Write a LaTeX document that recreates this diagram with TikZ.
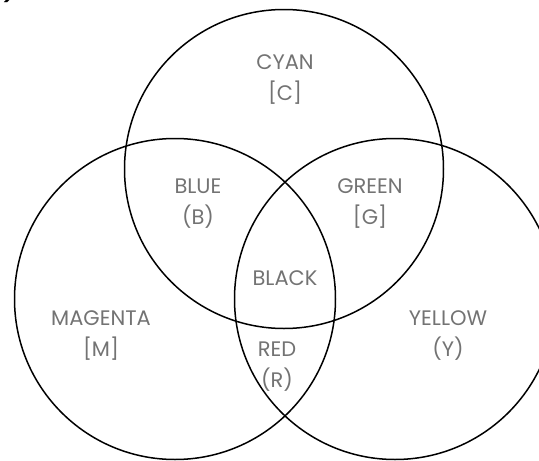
\documentclass[tikz,border=0pt]{standalone}
\usepackage{fontspec}
\setmainfont{Poppins}
\begin{document}
\begin{tikzpicture}[x=1pt,y=-1pt,
  circ/.style={draw=black,line width=1.5pt},
  lbl/.style={text=black!55,font=\fontsize{21}{31}\selectfont,align=center,inner sep=0pt}]
\useasboundingbox (0,0) rectangle (539,461);
\node[font=\bfseries\itshape\fontsize{20}{20}\selectfont,anchor=base east,inner sep=0pt] (tag) at (15,-2) {b)};
\draw[circ] (284,169) circle[radius=159.5];
\draw[circ] (175,299) circle[radius=160.5];
\draw[circ] (395,299) circle[radius=160.5];
\node[lbl] (c) at (285,80) {CYAN\\{[C]}};
\node[lbl] (b) at (198,204) {BLUE\\(B)};
\node[lbl] (g) at (370,204) {GREEN\\{[G]}};
\node[lbl] (k) at (285,278) {BLACK};
\node[lbl] (m) at (101,336) {MAGENTA\\{[M]}};
\node[lbl] (r) at (277,367) {RED\\(R)};
\node[lbl] (y) at (448,336) {YELLOW\\(Y)};
\end{tikzpicture}
\end{document}
